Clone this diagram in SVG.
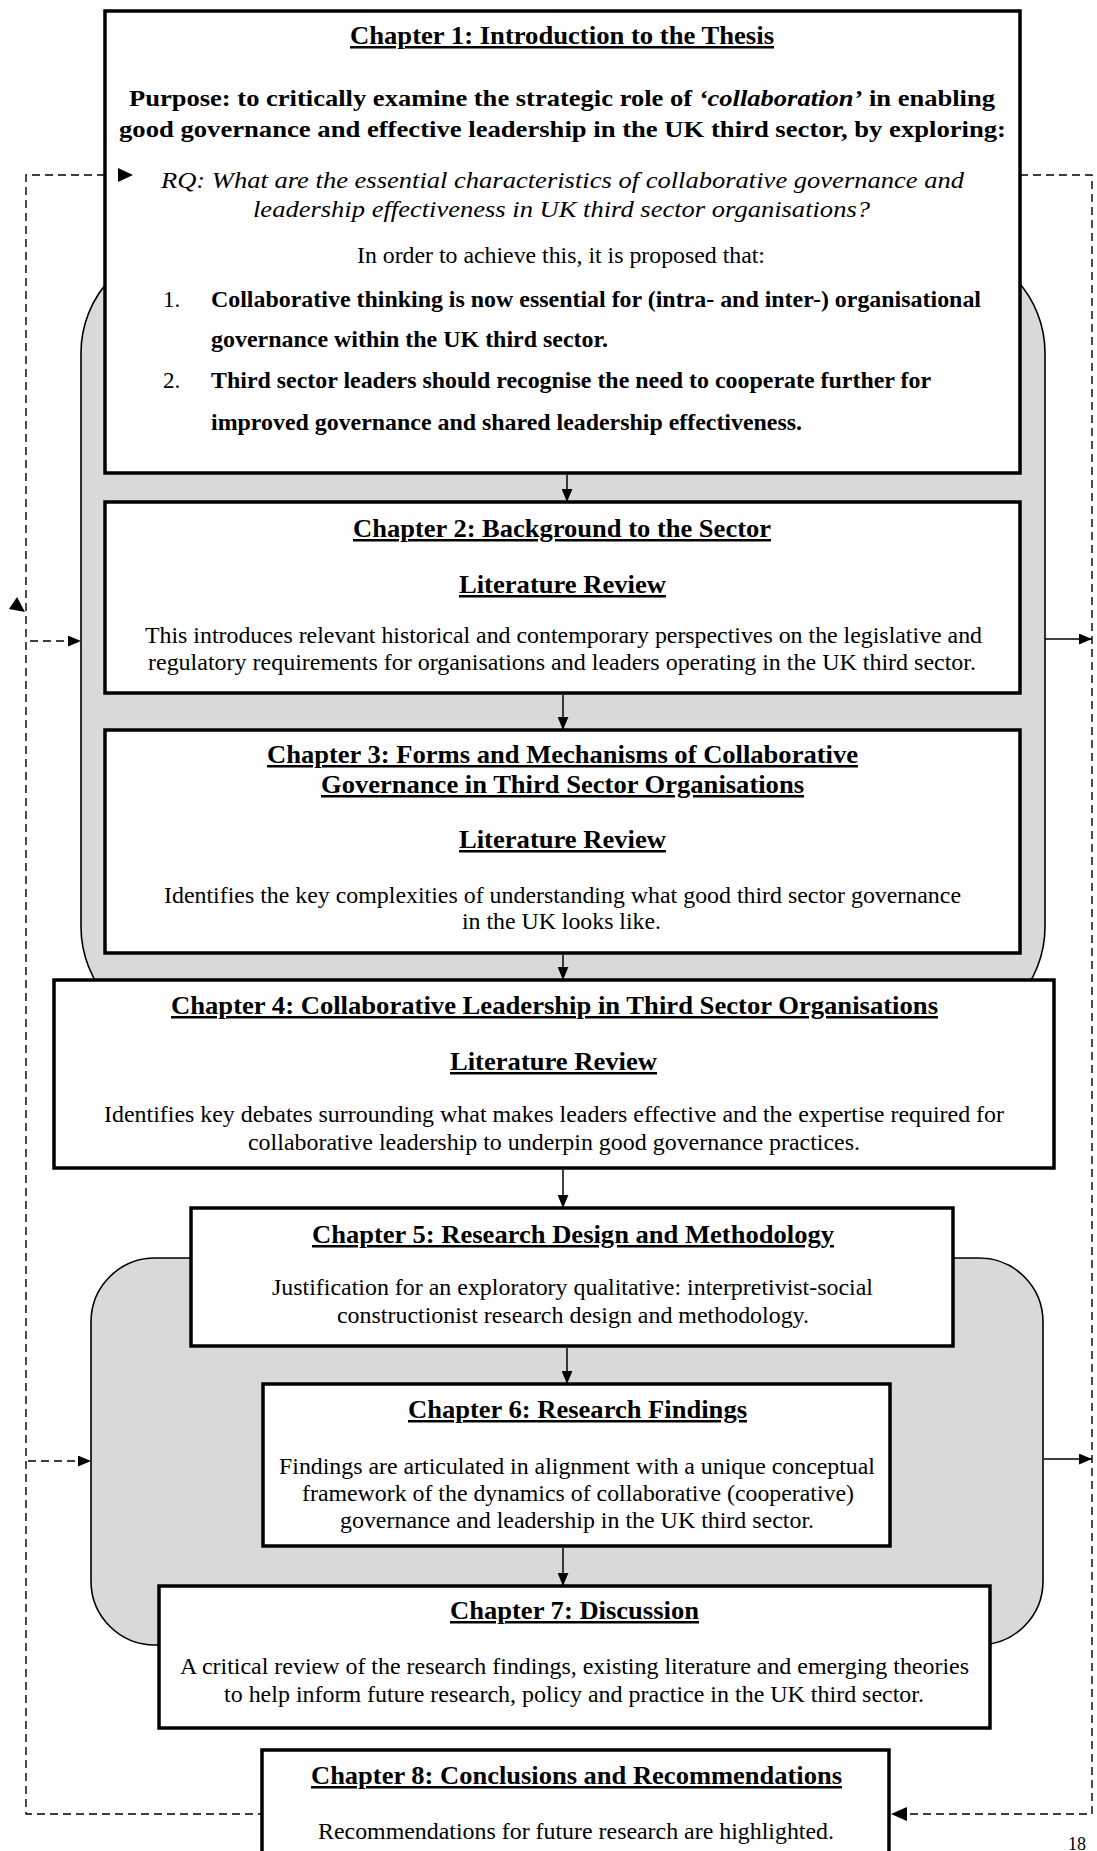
<svg xmlns="http://www.w3.org/2000/svg" width="1097" height="1851" viewBox="0 0 1097 1851">
  <style>
    text { font-family: "Liberation Serif", "Times New Roman", serif; fill: #000; }
    .title { font-size: 25px; font-weight: bold; text-decoration: underline; }
    .bold { font-size: 24px; font-weight: bold; }
    .body { font-size: 23px; }
    .ital { font-size: 24px; font-style: italic; }
    .box { fill: #fff; stroke: #000; stroke-width: 3.5; }
    .band { fill: #d9d9d9; stroke: #000; stroke-width: 1.6; }
    .flow { stroke: #000; stroke-width: 1.5; fill: none; marker-end: url(#head); }
    .loop { stroke: #000; stroke-width: 1.4; fill: none; stroke-dasharray: 8 5; }
    .feed { stroke: #000; stroke-width: 1.6; fill: none; stroke-dasharray: 8 5; marker-end: url(#head); }
    .out { stroke: #000; stroke-width: 1.6; fill: none; marker-end: url(#head); }
  </style>
  <defs>
    <marker id="head" viewBox="0 0 12 10" refX="12" refY="5" markerWidth="13" markerHeight="11" markerUnits="userSpaceOnUse" orient="auto">
      <path d="M0,0 L12,5 L0,10 Z" fill="#000"/>
    </marker>
  </defs>

  <rect width="1097" height="1851" fill="#fff"/>

  <!-- shaded bands grouping the literature review and the empirical chapters -->
  <g id="band-literature">
    <rect class="band" x="81" y="245" width="964" height="790" rx="108" ry="108"/>
  </g>
  <g id="band-empirical">
    <rect class="band" x="91" y="1258" width="952" height="387" rx="64" ry="64"/>
  </g>

  <!-- feedback loop and connectors -->
  <g id="connectors">
    <path class="loop" d="M105,175 H26 V1814 H262"/>
    <path class="loop" d="M1020,175 H1092 V1814 H906"/>
    <path d="M891,1814 L907,1807 L907,1821 Z" fill="#000"/>
    <path d="M17,597 L9,609 L25,612 Z" fill="#000"/>
    <line class="feed" x1="30" y1="641" x2="81" y2="641"/>
    <line class="feed" x1="28" y1="1461" x2="91" y2="1461"/>
    <line class="out" x1="1045" y1="639" x2="1092" y2="639"/>
    <line class="out" x1="1044" y1="1459" x2="1092" y2="1459"/>
    <line class="flow" x1="567" y1="475" x2="567" y2="502"/>
    <line class="flow" x1="563" y1="695" x2="563" y2="730"/>
    <line class="flow" x1="563" y1="955" x2="563" y2="980"/>
    <line class="flow" x1="563" y1="1170" x2="563" y2="1208"/>
    <line class="flow" x1="567" y1="1348" x2="567" y2="1384"/>
    <line class="flow" x1="563" y1="1548" x2="563" y2="1586"/>
  </g>

  <g id="chapter-1">
    <rect class="box" x="105" y="11" width="915" height="462"/>
    <text class="title" x="350" y="44" textLength="424" lengthAdjust="spacingAndGlyphs">Chapter 1: Introduction to the Thesis</text>
    <text class="bold" x="129" y="106" textLength="866" lengthAdjust="spacingAndGlyphs">Purpose: to critically examine the strategic role of <tspan font-style="italic">‘collaboration’</tspan> in enabling</text>
    <text class="bold" x="119" y="137" textLength="887" lengthAdjust="spacingAndGlyphs">good governance and effective leadership in the UK third sector, by exploring:</text>
    <path d="M118,168 L133,175 L118,182 Z" fill="#000"/>
    <text class="ital" x="161" y="188" textLength="803" lengthAdjust="spacingAndGlyphs">RQ: What are the essential characteristics of collaborative governance and</text>
    <text class="ital" x="253" y="217" textLength="617" lengthAdjust="spacingAndGlyphs">leadership effectiveness in UK third sector organisations?</text>
    <text class="body" x="357" y="263" textLength="408" lengthAdjust="spacingAndGlyphs">In order to achieve this, it is proposed that:</text>
    <text class="body" x="163" y="307">1.</text>
    <text class="bold" x="211" y="307" textLength="770" lengthAdjust="spacingAndGlyphs">Collaborative thinking is now essential for (intra- and inter-) organisational</text>
    <text class="bold" x="211" y="347" textLength="397" lengthAdjust="spacingAndGlyphs">governance within the UK third sector.</text>
    <text class="body" x="163" y="388">2.</text>
    <text class="bold" x="211" y="388" textLength="720" lengthAdjust="spacingAndGlyphs">Third sector leaders should recognise the need to cooperate further for</text>
    <text class="bold" x="211" y="430" textLength="591" lengthAdjust="spacingAndGlyphs">improved governance and shared leadership effectiveness.</text>
  </g>

  <g id="chapter-2">
    <rect class="box" x="105" y="502" width="915" height="191"/>
    <text class="title" x="353" y="537" textLength="418" lengthAdjust="spacingAndGlyphs">Chapter 2: Background to the Sector</text>
    <text class="title" x="459" y="593" textLength="207" lengthAdjust="spacingAndGlyphs">Literature Review</text>
    <text class="body" x="145" y="643" textLength="837" lengthAdjust="spacingAndGlyphs">This introduces relevant historical and contemporary perspectives on the legislative and</text>
    <text class="body" x="148" y="670" textLength="828" lengthAdjust="spacingAndGlyphs">regulatory requirements for organisations and leaders operating in the UK third sector.</text>
  </g>

  <g id="chapter-3">
    <rect class="box" x="105" y="730" width="915" height="223"/>
    <text class="title" x="267" y="763" textLength="591" lengthAdjust="spacingAndGlyphs">Chapter 3: Forms and Mechanisms of Collaborative</text>
    <text class="title" x="321" y="793" textLength="483" lengthAdjust="spacingAndGlyphs">Governance in Third Sector Organisations</text>
    <text class="title" x="459" y="848" textLength="207" lengthAdjust="spacingAndGlyphs">Literature Review</text>
    <text class="body" x="164" y="903" textLength="797" lengthAdjust="spacingAndGlyphs">Identifies the key complexities of understanding what good third sector governance</text>
    <text class="body" x="462" y="929" textLength="199" lengthAdjust="spacingAndGlyphs">in the UK looks like.</text>
  </g>

  <g id="chapter-4">
    <rect class="box" x="54" y="980" width="1000" height="188"/>
    <text class="title" x="171" y="1014" textLength="767" lengthAdjust="spacingAndGlyphs">Chapter 4: Collaborative Leadership in Third Sector Organisations</text>
    <text class="title" x="450" y="1070" textLength="207" lengthAdjust="spacingAndGlyphs">Literature Review</text>
    <text class="body" x="104" y="1122" textLength="900" lengthAdjust="spacingAndGlyphs">Identifies key debates surrounding what makes leaders effective and the expertise required for</text>
    <text class="body" x="248" y="1150" textLength="612" lengthAdjust="spacingAndGlyphs">collaborative leadership to underpin good governance practices.</text>
  </g>

  <g id="chapter-5">
    <rect class="box" x="191" y="1208" width="762" height="138"/>
    <text class="title" x="312" y="1243" textLength="522" lengthAdjust="spacingAndGlyphs">Chapter 5: Research Design and Methodology</text>
    <text class="body" x="272" y="1295" textLength="601" lengthAdjust="spacingAndGlyphs">Justification for an exploratory qualitative: interpretivist-social</text>
    <text class="body" x="337" y="1323" textLength="472" lengthAdjust="spacingAndGlyphs">constructionist research design and methodology.</text>
  </g>

  <g id="chapter-6">
    <rect class="box" x="263" y="1384" width="627" height="162"/>
    <text class="title" x="408" y="1418" textLength="339" lengthAdjust="spacingAndGlyphs">Chapter 6: Research Findings</text>
    <text class="body" x="279" y="1474" textLength="596" lengthAdjust="spacingAndGlyphs">Findings are articulated in alignment with a unique conceptual</text>
    <text class="body" x="302" y="1501" textLength="552" lengthAdjust="spacingAndGlyphs">framework of the dynamics of collaborative (cooperative)</text>
    <text class="body" x="340" y="1528" textLength="474" lengthAdjust="spacingAndGlyphs">governance and leadership in the UK third sector.</text>
  </g>

  <g id="chapter-7">
    <rect class="box" x="159" y="1586" width="831" height="142"/>
    <text class="title" x="450" y="1619" textLength="249" lengthAdjust="spacingAndGlyphs">Chapter 7: Discussion</text>
    <text class="body" x="180" y="1674" textLength="789" lengthAdjust="spacingAndGlyphs">A critical review of the research findings, existing literature and emerging theories</text>
    <text class="body" x="224" y="1702" textLength="700" lengthAdjust="spacingAndGlyphs">to help inform future research, policy and practice in the UK third sector.</text>
  </g>

  <g id="chapter-8">
    <rect class="box" x="262" y="1750" width="627" height="130"/>
    <text class="title" x="311" y="1784" textLength="531" lengthAdjust="spacingAndGlyphs">Chapter 8: Conclusions and Recommendations</text>
    <text class="body" x="318" y="1839" textLength="516" lengthAdjust="spacingAndGlyphs">Recommendations for future research are highlighted.</text>
  </g>

  <!-- page number -->
  <text x="1068" y="1850" font-size="18">18</text>
</svg>
